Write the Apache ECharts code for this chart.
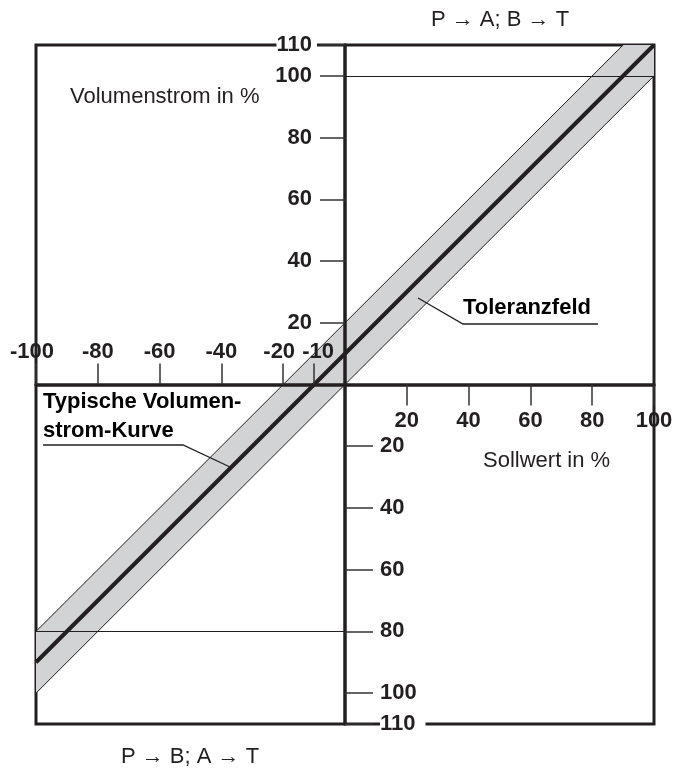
<!DOCTYPE html>
<html><head><meta charset="utf-8">
<script src="https://cdn.jsdelivr.net/npm/echarts@6/dist/echarts.min.js"></script>
<style>html,body{margin:0;padding:0;background:#fff}#c{width:675px;height:769px}</style>
</head><body><div id="c"></div>
<script>
// Sollwert (x) and Volumenstrom (y) in %; lower half (P→B) is negative
const sollwert = [-100, 100];
const typischeKurve = [-90, 110];
const toleranzUnten = [-100, 100];
const toleranzOben = [-80, 120];
const xTicksOben = [-100, -80, -60, -40, -20, -10];
const xTicksUnten = [20, 40, 60, 80, 100];
const yTicksOben = [20, 40, 60, 80, 100, 110];
const yTicksUnten = [-20, -40, -60, -80, -100, -110];
const refLinieOben = [[0, 100], [100, 100]];
const refLinieUnten = [[-100, -80], [0, -80]];

const DARK = '#231f20';
const TICK = '#333333';
const NUMFONT = '"Liberation Sans", Arial, sans-serif';
const TXTFONT = '"Liberation Sans", Arial, sans-serif';
const numLabel = {color: DARK, fontFamily: NUMFONT, fontWeight: 'bold', fontSize: 22};

// grid geometry (pixels): axes moved from the grid edge to the zero lines via offset
const G = {left: 36, right: 21, top: 45, bottom: 45};
const W = 675, H = 769;
const gw = W - G.left - G.right, gh = H - G.top - G.bottom;
const offX = -gh / 2;   // horizontal axes to y = 0
const offY = -gw / 2;   // vertical axes to x = 0

const chart = echarts.init(document.getElementById('c'), null, {renderer: 'canvas'});
const option = {
  animation: false,
  backgroundColor: '#fff',
  grid: {
    left: G.left, right: G.right, top: G.top, bottom: G.bottom,
    show: true, borderColor: DARK, borderWidth: 3, backgroundColor: 'transparent',
    containLabel: false, outerBoundsMode: 'none'
  },
  xAxis: [
    {
      type: 'value', min: -100, max: 100, position: 'top', offset: offX, z: 5,
      axisLine: {show: true, onZero: false, lineStyle: {color: DARK, width: 3.5}},
      axisTick: {show: true, customValues: xTicksOben, length: 21, lineStyle: {color: TICK, width: 1.5}},
      axisLabel: Object.assign({}, numLabel, {
        customValues: xTicksOben, margin: 22, hideOverlap: false,
        formatter: v => (v === -20 || v === -100) ? '{l|' + v + '}' : (v === -10 ? '{r|' + v + '}' : '{n|' + v + '}'),
        rich: {
          n: Object.assign({}, numLabel),
          l: Object.assign({}, numLabel, {padding: [0, 8, 0, 0]}),
          r: Object.assign({}, numLabel, {padding: [0, 0, 0, 8]})
        }
      }),
      splitLine: {show: false}
    },
    {
      type: 'value', min: -100, max: 100, position: 'bottom', offset: offX, z: 5,
      axisLine: {show: false, onZero: false},
      axisTick: {show: true, customValues: xTicksUnten, length: 21, lineStyle: {color: TICK, width: 1.5}},
      axisLabel: Object.assign({}, numLabel, {customValues: xTicksUnten, margin: 25, hideOverlap: false, formatter: v => String(v)}),
      splitLine: {show: false}
    }
  ],
  yAxis: [
    {
      type: 'value', min: -110, max: 110, position: 'left', offset: offY, z: 5,
      axisLine: {show: true, onZero: false, lineStyle: {color: DARK, width: 3.5}},
      axisTick: {show: true, customValues: yTicksOben, length: 25, lineStyle: {color: TICK, width: 1.5}},
      axisLabel: Object.assign({}, numLabel, {
        customValues: yTicksOben, margin: 28, hideOverlap: false, formatter: v => String(v),
        backgroundColor: '#fff', padding: [0, 5, 0, 0]
      }),
      splitLine: {show: false}
    },
    {
      type: 'value', min: -110, max: 110, position: 'right', offset: offY, z: 5,
      axisLine: {show: false, onZero: false},
      axisTick: {show: true, customValues: yTicksUnten, length: 28, lineStyle: {color: TICK, width: 1.5}},
      axisLabel: Object.assign({}, numLabel, {
        customValues: yTicksUnten, margin: 35, hideOverlap: false, formatter: v => String(Math.abs(v)),
        backgroundColor: '#fff', padding: [0, 10, 0, 0]
      }),
      splitLine: {show: false}
    }
  ],
  series: [
    {
      type: 'custom', name: 'Toleranzfeld', xAxisIndex: 0, yAxisIndex: 0, clip: true, silent: true, z: 1,
      data: [[sollwert[0], toleranzUnten[0]]],
      renderItem: function (params, api) {
        const pts = [];
        for (let i = 0; i < sollwert.length; i++) pts.push(api.coord([sollwert[i], toleranzUnten[i]]));
        for (let i = sollwert.length - 1; i >= 0; i--) pts.push(api.coord([sollwert[i], toleranzOben[i]]));
        return {type: 'polygon', shape: {points: pts}, style: {fill: '#d1d3d4', stroke: null}};
      }
    },
    {
      type: 'line', name: 'Toleranz unten', xAxisIndex: 0, yAxisIndex: 0,
      data: sollwert.map((x, i) => [x, toleranzUnten[i]]),
      symbol: 'none', silent: true, z: 2, lineStyle: {color: DARK, width: 1}
    },
    {
      type: 'line', name: 'Toleranz oben', xAxisIndex: 0, yAxisIndex: 0,
      data: sollwert.map((x, i) => [x, toleranzOben[i]]),
      symbol: 'none', silent: true, z: 2, lineStyle: {color: DARK, width: 1}
    },
    {
      type: 'line', name: 'Typische Volumenstrom-Kurve', xAxisIndex: 0, yAxisIndex: 0,
      data: sollwert.map((x, i) => [x, typischeKurve[i]]),
      symbol: 'none', silent: true, z: 4,
      lineStyle: {color: DARK, width: 4},
      markLine: {
        silent: true, symbol: 'none', label: {show: false},
        lineStyle: {color: DARK, width: 1, type: 'solid'},
        data: [
          [{coord: refLinieOben[0]}, {coord: refLinieOben[1]}],
          [{coord: refLinieUnten[0]}, {coord: refLinieUnten[1]}]
        ]
      }
    }
  ],
  graphic: [
    {type: 'text', x: 500, y: 20, z: 10, style: {text: 'P → A; B → T', font: '22px ' + TXTFONT, fill: DARK, align: 'center', verticalAlign: 'middle', textAlign: 'center', textVerticalAlign: 'middle'}},
    {type: 'text', x: 190, y: 757, z: 10, style: {text: 'P → B; A → T', font: '22px ' + TXTFONT, fill: DARK, align: 'center', verticalAlign: 'middle', textAlign: 'center', textVerticalAlign: 'middle'}},
    {type: 'text', x: 70, y: 97, z: 10, style: {text: 'Volumenstrom in %', font: '22px ' + TXTFONT, fill: DARK, align: 'left', verticalAlign: 'middle', textAlign: 'left', textVerticalAlign: 'middle'}},
    {type: 'text', x: 483, y: 461, z: 10, style: {text: 'Sollwert in %', font: '22px ' + TXTFONT, fill: DARK, align: 'left', verticalAlign: 'middle', textAlign: 'left', textVerticalAlign: 'middle'}},
    {type: 'text', x: 463, y: 308, z: 10, style: {text: 'Toleranzfeld', font: 'bold 22px ' + TXTFONT, fill: '#000', align: 'left', verticalAlign: 'middle', textAlign: 'left', textVerticalAlign: 'middle'}},
    {type: 'text', x: 43, y: 402, z: 10, style: {text: 'Typische Volumen-', font: 'bold 22px ' + TXTFONT, fill: '#000', align: 'left', verticalAlign: 'middle', textAlign: 'left', textVerticalAlign: 'middle'}},
    {type: 'text', x: 43, y: 431, z: 10, style: {text: 'strom-Kurve', font: 'bold 22px ' + TXTFONT, fill: '#000', align: 'left', verticalAlign: 'middle', textAlign: 'left', textVerticalAlign: 'middle'}},
    {type: 'polyline', z: 10, shape: {points: [[418, 298], [463, 324], [598, 324]]}, style: {stroke: DARK, lineWidth: 1.3, fill: null}},
    {type: 'polyline', z: 10, shape: {points: [[43, 445], [183, 445], [230, 467]]}, style: {stroke: DARK, lineWidth: 1.3, fill: null}}
  ]
};
chart.setOption(option);
</script>
</body></html>
